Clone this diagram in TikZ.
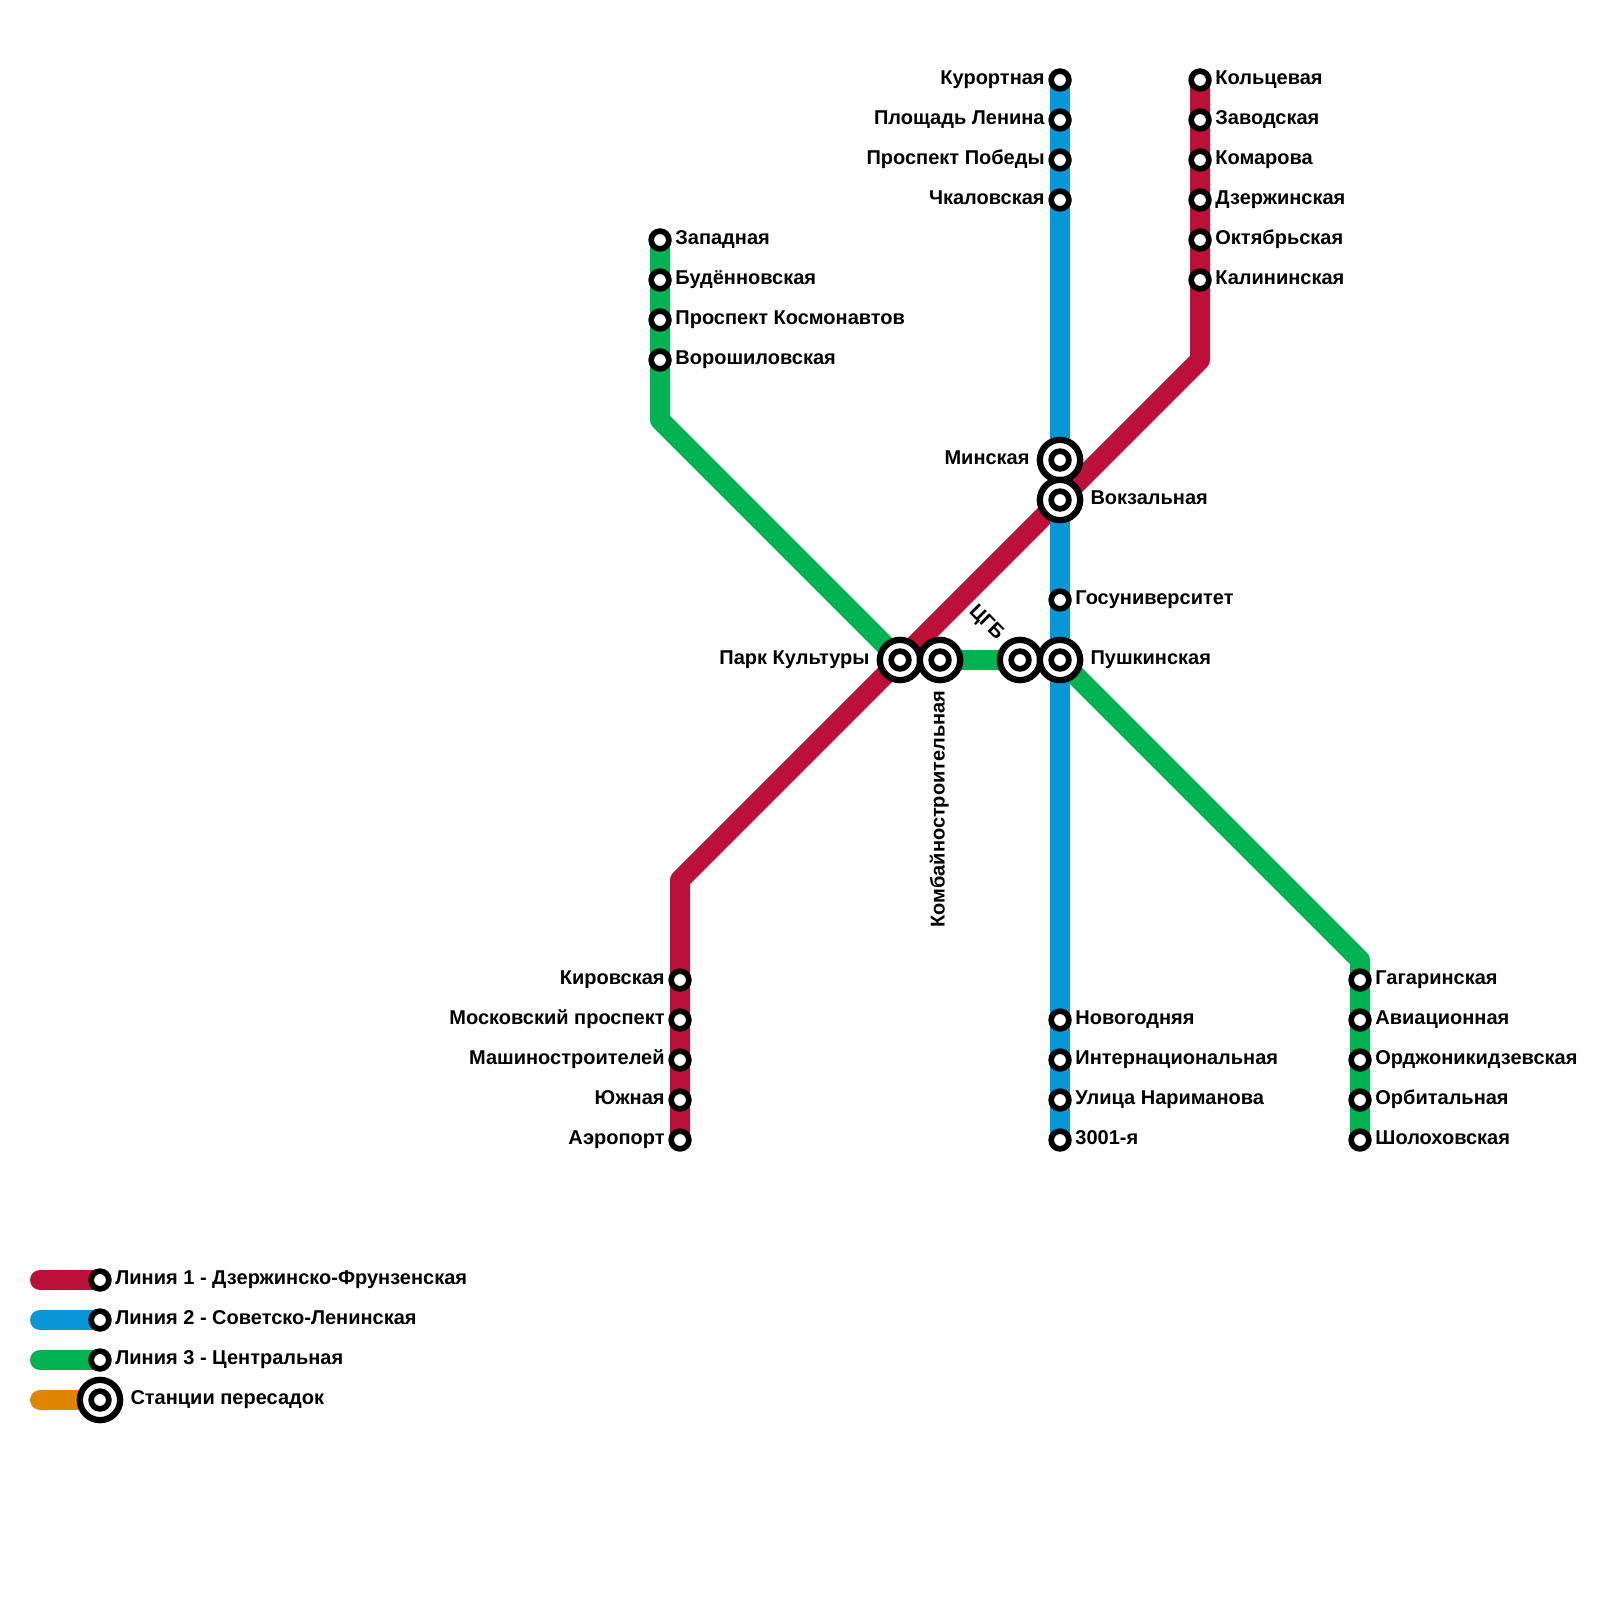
\documentclass[tikz,border=0pt]{standalone}
\usepackage{fontspec}
\setmainfont{Liberation Sans}
\usetikzlibrary{positioning, backgrounds}
\definecolor{krasnyj}{RGB}{189,16,56}
\definecolor{sinij}{RGB}{8,150,215}
\definecolor{zelenyj}{RGB}{0,178,81}
\definecolor{oranzh}{RGB}{223,134,0}
\tikzset{
	liniya/.style={line width=20pt, line join=round},
	legenda/.style={liniya, line cap=round},
	stanciya/.style={circle, draw=black, fill=white, line width=5.7pt, minimum size=17.7pt, inner sep=0pt},
	peresadka/.style={circle, draw=black, fill=white, line width=6.3pt, minimum size=40.3pt, inner sep=0pt},
	podpis/.style={font=\fontsize{20}{24}\selectfont\bfseries, inner sep=0pt, text height=14.6pt, text depth=5.4pt}
}

\begin{document}
\begin{tikzpicture}[x=1pt, y=-1pt]
	\useasboundingbox (0,0) rectangle (1600,1600);
	% Liniya 1
	\node[stanciya] (kolcevaya) at (1200,80) {};
	\node[podpis, right=3.5pt of kolcevaya] (t-kolcevaya) {Кольцевая};
	\node[stanciya] (zavodskaya) at (1200,120) {};
	\node[podpis, right=3.5pt of zavodskaya] (t-zavodskaya) {Заводская};
	\node[stanciya] (komarova) at (1200,160) {};
	\node[podpis, right=3.5pt of komarova] (t-komarova) {Комарова};
	\node[stanciya] (dzerzhinskaya) at (1200,200) {};
	\node[podpis, right=3.5pt of dzerzhinskaya] (t-dzerzhinskaya) {Дзержинская};
	\node[stanciya] (oktyabrskaya) at (1200,240) {};
	\node[podpis, right=3.5pt of oktyabrskaya] (t-oktyabrskaya) {Октябрьская};
	\node[stanciya] (kalininskaya) at (1200,280) {};
	\node[podpis, right=3.5pt of kalininskaya] (t-kalininskaya) {Калининская};
	\node[stanciya] (kirovskaya) at (680,980) {};
	\node[podpis, left=3.5pt of kirovskaya] (t-kirovskaya) {Кировская};
	\node[stanciya] (moskovskij) at (680,1020) {};
	\node[podpis, left=3.5pt of moskovskij] (t-moskovskij) {Московский проспект};
	\node[stanciya] (mashino) at (680,1060) {};
	\node[podpis, left=3.5pt of mashino] (t-mashino) {Машиностроителей};
	\node[stanciya] (yuzhnaya) at (680,1100) {};
	\node[podpis, left=3.5pt of yuzhnaya] (t-yuzhnaya) {Южная};
	\node[stanciya] (aeroport) at (680,1140) {};
	\node[podpis, left=3.5pt of aeroport] (t-aeroport) {Аэропорт};
	% Liniya 2
	\node[stanciya] (kurortnaya) at (1060,80) {};
	\node[podpis, left=3.5pt of kurortnaya] (t-kurortnaya) {Курортная};
	\node[stanciya] (lenina) at (1060,120) {};
	\node[podpis, left=3.5pt of lenina] (t-lenina) {Площадь Ленина};
	\node[stanciya] (pobedy) at (1060,160) {};
	\node[podpis, left=3.5pt of pobedy] (t-pobedy) {Проспект Победы};
	\node[stanciya] (chkalovskaya) at (1060,200) {};
	\node[podpis, left=3.5pt of chkalovskaya] (t-chkalovskaya) {Чкаловская};
	\node[stanciya] (gosuniver) at (1060,600) {};
	\node[podpis, right=3.5pt of gosuniver] (t-gosuniver) {Госуниверситет};
	\node[stanciya] (novogodnyaya) at (1060,1020) {};
	\node[podpis, right=3.5pt of novogodnyaya] (t-novogodnyaya) {Новогодняя};
	\node[stanciya] (internac) at (1060,1060) {};
	\node[podpis, right=3.5pt of internac] (t-internac) {Интернациональная};
	\node[stanciya] (narimanova) at (1060,1100) {};
	\node[podpis, right=3.5pt of narimanova] (t-narimanova) {Улица Нариманова};
	\node[stanciya] (tretya) at (1060,1140) {};
	\node[podpis, right=3.5pt of tretya] (t-tretya) {3001-я};
	% Liniya 3
	\node[stanciya] (zapadnaya) at (660,240) {};
	\node[podpis, right=3.5pt of zapadnaya] (t-zapadnaya) {Западная};
	\node[stanciya] (budyon) at (660,280) {};
	\node[podpis, right=3.5pt of budyon] (t-budyon) {Будённовская};
	\node[stanciya] (kosmonavtov) at (660,320) {};
	\node[podpis, right=3.5pt of kosmonavtov] (t-kosmonavtov) {Проспект Космонавтов};
	\node[stanciya] (voroshilov) at (660,360) {};
	\node[podpis, right=3.5pt of voroshilov] (t-voroshilov) {Ворошиловская};
	\node[stanciya] (gagarinskaya) at (1360,980) {};
	\node[podpis, right=3.5pt of gagarinskaya] (t-gagarinskaya) {Гагаринская};
	\node[stanciya] (aviacionnaya) at (1360,1020) {};
	\node[podpis, right=3.5pt of aviacionnaya] (t-aviacionnaya) {Авиационная};
	\node[stanciya] (ordzhon) at (1360,1060) {};
	\node[podpis, right=3.5pt of ordzhon] (t-ordzhon) {Орджоникидзевская};
	\node[stanciya] (orbitalnaya) at (1360,1100) {};
	\node[podpis, right=3.5pt of orbitalnaya] (t-orbitalnaya) {Орбитальная};
	\node[stanciya] (sholokhov) at (1360,1140) {};
	\node[podpis, right=3.5pt of sholokhov] (t-sholokhov) {Шолоховская};
	% Peresadki
	\node[peresadka] (minskaya) at (1060,460) {};
	\node[stanciya] (minskaya-c) at (minskaya) {};
	\node[podpis, left=7pt of minskaya] (t-minskaya) {Минская};
	\node[peresadka] (vokzalnaya) at (1060,500) {};
	\node[stanciya] (vokzalnaya-c) at (vokzalnaya) {};
	\node[podpis, right=7pt of vokzalnaya] (t-vokzalnaya) {Вокзальная};
	\node[peresadka] (park) at (900,660) {};
	\node[stanciya] (park-c) at (park) {};
	\node[podpis, left=7pt of park] (t-park) {Парк Культуры};
	\node[peresadka] (kombajn) at (940,660) {};
	\node[stanciya] (kombajn-c) at (kombajn) {};
	\node[podpis, rotate=90, anchor=east] (t-kombajn) at ([yshift=-7pt]kombajn.south) {Комбайностроительная};
	\node[peresadka] (cgb) at (1020,660) {};
	\node[stanciya] (cgb-c) at (cgb) {};
	\node[podpis, rotate=-45] (t-cgb) at ([xshift=-34.2pt,yshift=37pt]cgb) {ЦГБ};
	\node[peresadka] (pushkinskaya) at (1060,660) {};
	\node[stanciya] (pushkinskaya-c) at (pushkinskaya) {};
	\node[podpis, right=7pt of pushkinskaya] (t-pushkinskaya) {Пушкинская};
	% Legenda
	\node[stanciya] (leg1) at (100,1280) {};
	\node[podpis, right=3.5pt of leg1] (t-leg1) {Линия 1 - Дзержинско-Фрунзенская};
	\node[stanciya] (leg2) at (100,1320) {};
	\node[podpis, right=3.5pt of leg2] (t-leg2) {Линия 2 - Советско-Ленинская};
	\node[stanciya] (leg3) at (100,1360) {};
	\node[podpis, right=3.5pt of leg3] (t-leg3) {Линия 3 - Центральная};
	\node[peresadka] (leg4) at (100,1400) {};
	\node[stanciya] (leg4-c) at (leg4) {};
	\node[podpis, right=7pt of leg4] (t-leg4) {Станции пересадок};
	\coordinate (leg1-k) at (40,1280);
	\coordinate (leg2-k) at (40,1320);
	\coordinate (leg3-k) at (40,1360);
	\coordinate (leg4-k) at (40,1400);
	% Kolena linij
	\coordinate (koleno1a) at (1200,360);
	\coordinate (koleno1b) at (680,880);
	\coordinate (koleno3a) at (660,420);
	\coordinate (koleno3b) at (1360,960);
	\begin{scope}[on background layer]
		\draw[liniya, zelenyj] (zapadnaya.center) -- (koleno3a) -- (park.center) -- (pushkinskaya.center) -- (koleno3b) -- (sholokhov.center);
		\draw[liniya, krasnyj] (kolcevaya.center) -- (koleno1a) -- (koleno1b) -- (aeroport.center);
		\draw[liniya, sinij] (kurortnaya.center) -- (tretya.center);
		\draw[legenda, krasnyj] (leg1-k) -- (leg1.center);
		\draw[legenda, sinij] (leg2-k) -- (leg2.center);
		\draw[legenda, zelenyj] (leg3-k) -- (leg3.center);
		\draw[legenda, oranzh] (leg4-k) -- (leg4.center);
	\end{scope}
\end{tikzpicture}
\end{document}
